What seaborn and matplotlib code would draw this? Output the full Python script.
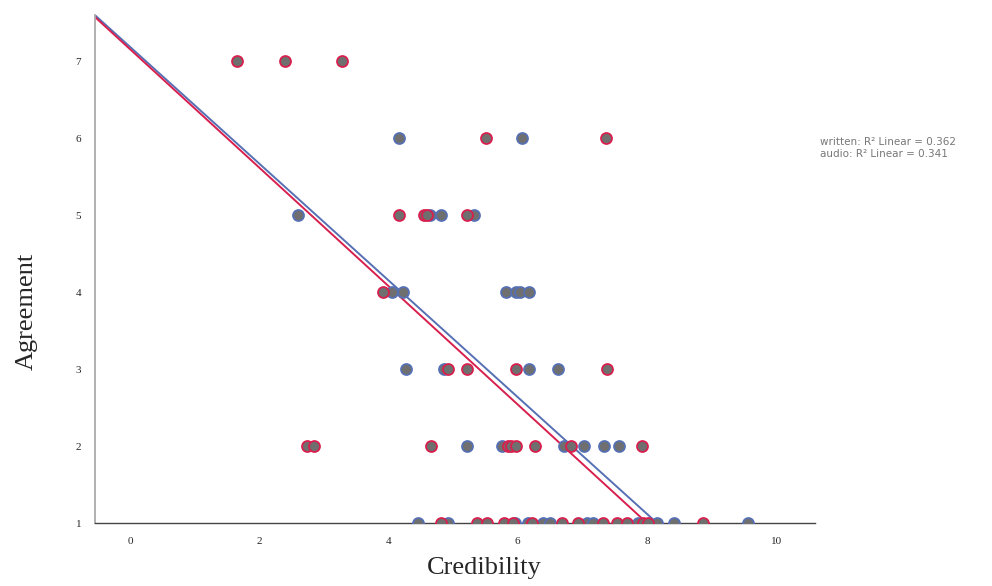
import numpy as np
import pandas as pd
import seaborn as sns
import matplotlib.pyplot as plt

# points (credibility, agreement)
written_x = [4.16, 6.07,
             2.60, 4.64, 4.81, 5.33,
             4.06, 4.23, 5.82, 5.98, 6.03, 6.18,
             4.27, 4.86, 6.18, 6.63,
             5.22, 5.76, 6.72, 7.03, 7.34, 7.57,
             4.46, 4.92, 5.96, 6.16, 6.39, 6.50, 7.07, 7.17, 7.86, 8.16, 8.42, 9.57]
written_y = [6, 6,
             5, 5, 5, 5,
             4, 4, 4, 4, 4, 4,
             3, 3, 3, 3,
             2, 2, 2, 2, 2, 2,
             1, 1, 1, 1, 1, 1, 1, 1, 1, 1, 1, 1]

audio_x = [1.66, 2.40, 3.28,
           5.51, 7.37,
           4.16, 4.55, 4.60, 5.22,
           3.92,
           4.92, 5.22, 5.98, 7.38,
           2.74, 2.85, 4.66, 5.85, 5.90, 5.98, 6.27, 6.83, 7.93,
           4.81, 5.37, 5.52, 5.78, 5.92, 6.22, 6.69, 6.93, 7.32, 7.54, 7.69, 7.94, 8.02, 8.87]
audio_y = [7, 7, 7,
           6, 6,
           5, 5, 5, 5,
           4,
           3, 3, 3, 3,
           2, 2, 2, 2, 2, 2, 2, 2, 2,
           1, 1, 1, 1, 1, 1, 1, 1, 1, 1, 1, 1, 1, 1]

# fit lines (intercept, slope)
written_fit = [7.19, -0.759]
audio_fit = [7.16, -0.770]
legend_lines = ["written: R² Linear = 0.362", "audio: R² Linear = 0.341"]

blue = "#5670b4"
red = "#d81f4e"
fill = "#6f6f6f"

sns.set_style("white")
fig = plt.figure(figsize=(9.92, 5.86), dpi=100)
ax = fig.add_axes([0.0958, 0.1075, 0.7258, 0.8665])

xmin, xmax = -0.54, 10.6
ymin, ymax = 1.0, 7.6

for fit, col in [(written_fit, blue), (audio_fit, red)]:
    b0, b1 = fit
    xe = (ymin - b0) / b1
    ax.plot([xmin, xe], [b0 + b1 * xmin, ymin], color=col, lw=1.4, zorder=2)

for xs, ys, col in [(written_x, written_y, blue), (audio_x, audio_y, red)]:
    sns.scatterplot(x=xs, y=ys, ax=ax, s=62, zorder=3,
                    facecolor=fill, edgecolor=col, linewidth=1.3)

ax.set_xlim(xmin, xmax)
ax.set_ylim(ymin, ymax)
ax.set_xticks([0, 2, 4, 6, 8, 10])
ax.set_yticks([1, 2, 3, 4, 5, 6, 7])
for lab in ax.get_xticklabels() + ax.get_yticklabels():
    lab.set_family("Liberation Serif")
    lab.set_fontsize(8)
ax.tick_params(axis="x", pad=10, length=0)
ax.tick_params(axis="y", pad=10, length=0)

sns.despine(ax=ax)
ax.spines["left"].set_color("#aaaaaa")
ax.spines["left"].set_linewidth(1.3)
ax.spines["bottom"].set_color("#444444")
ax.spines["bottom"].set_linewidth(1.0)

ax.set_xlabel("Credibility", family="Liberation Serif", fontsize=19, labelpad=8, x=0.54)
ax.set_ylabel("Agreement", family="Liberation Serif", fontsize=19, labelpad=27, y=0.417)

fig.text(0.827, 0.757, legend_lines[0], fontsize=7.5, color="#777777",
         family="DejaVu Sans", va="center")
fig.text(0.827, 0.737, legend_lines[1], fontsize=7.5, color="#777777",
         family="DejaVu Sans", va="center")

fig.savefig("out.png", dpi=100)
